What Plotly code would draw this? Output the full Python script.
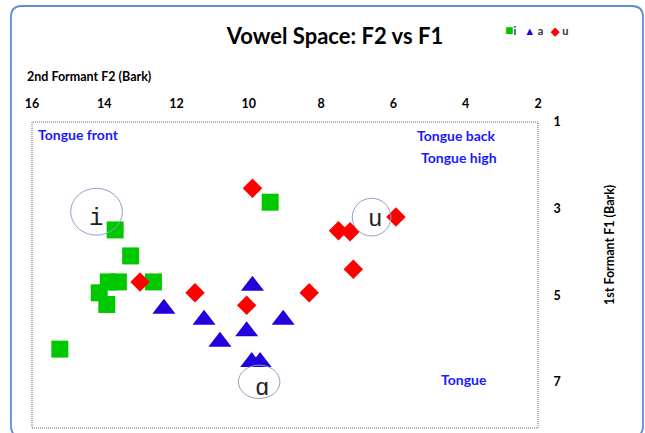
import plotly.graph_objects as go

# ---- data ----
i_f2 = [9.41, 13.70, 13.27, 13.61, 13.89, 14.14, 13.93, 12.64, 15.23]
i_f1 = [2.85, 3.49, 4.09, 4.69, 4.69, 4.94, 5.21, 4.69, 6.24]

a_f2 = [9.90, 12.35, 11.24, 10.80, 10.06, 9.05, 9.92, 9.69]
a_f1 = [4.78, 5.31, 5.56, 6.07, 5.83, 5.56, 6.54, 6.54]

u_f2 = [9.90, 13.01, 11.49, 10.06, 8.33, 5.93, 7.52, 7.20, 7.11]
u_f1 = [2.53, 4.69, 4.94, 5.23, 4.94, 3.19, 3.51, 3.53, 4.40]

x_ticks = [16, 14, 12, 10, 8, 6, 4, 2]
y_ticks = [1, 3, 5, 7]

GREEN = "#00c800"
BLUE = "#2200dd"
RED = "#ff0000"
TXTBLUE = "#1a1aff"
FONT = "Lato"

W, H = 645, 433
L, R, T, B = 32, 538, 122, 428


def px(x):
    return (x - L) / (R - L)


def py(y):
    return (B - y) / (B - T)


fig = go.Figure()
fig.add_trace(go.Scatter(x=i_f2, y=i_f1, mode="markers", name="i",
                         marker=dict(symbol="square", size=17, color=GREEN)))
fig.add_trace(go.Scatter(x=a_f2, y=a_f1, mode="markers", name="a",
                         marker=dict(symbol="triangle-up", size=20, color=BLUE)))
fig.add_trace(go.Scatter(x=u_f2, y=u_f1, mode="markers", name="u",
                         marker=dict(symbol="diamond", size=15, color=RED)))

# outer rounded frame (paper coords)
x0, x1, y0, y1 = px(11), px(643), py(437), py(6)
rx, ry = 11 / (R - L), 11 / (B - T)
frame = (f"M{x0+rx},{y1} L{x1-rx},{y1} Q{x1},{y1} {x1},{y1-ry} "
         f"L{x1},{y0+ry} Q{x1},{y0} {x1-rx},{y0} L{x0+rx},{y0} "
         f"Q{x0},{y0} {x0},{y0+ry} L{x0},{y1-ry} Q{x0},{y1} {x0+rx},{y1} Z")

shapes = [
    dict(type="path", xref="paper", yref="paper", path=frame,
         line=dict(color="#5b8ed6", width=1.8), layer="below"),
    dict(type="rect", xref="paper", yref="paper", x0=0, x1=1, y0=0, y1=1,
         line=dict(color="#666666", width=1, dash="1px,1px")),
    # circles around vowel symbols
    dict(type="circle", xref="x", yref="y", x0=14.93, x1=13.50, y0=2.53, y1=3.61,
         line=dict(color="#8da2c4", width=1)),
    dict(type="circle", xref="x", yref="y", x0=7.14, x1=6.07, y0=2.76, y1=3.63,
         line=dict(color="#8da2c4", width=1)),
    dict(type="circle", xref="x", yref="y", x0=10.29, x1=9.14, y0=6.61, y1=7.38,
         line=dict(color="#8da2c4", width=1)),
]

bold = dict(family=FONT, size=14, color=TXTBLUE, weight="bold")
axis_font = dict(family=FONT, size=12.5, color="black", weight="bold")
sym_font = dict(family="Liberation Mono, DejaVu Sans Mono", size=24, color="#222222")
annotations = [
    dict(text="Tongue front", x=px(36), y=py(134), xref="paper", yref="paper",
         xanchor="left", yanchor="middle", showarrow=False, font=bold),
    dict(text="Tongue back", x=px(498), y=py(135), xref="paper", yref="paper",
         xanchor="right", yanchor="middle", showarrow=False, font=bold),
    dict(text="Tongue high", x=px(499), y=py(157), xref="paper", yref="paper",
         xanchor="right", yanchor="middle", showarrow=False, font=bold),
    dict(text="Tongue", x=px(464), y=py(379), xref="paper", yref="paper",
         xanchor="center", yanchor="middle", showarrow=False, font=bold),
    dict(text="2nd Formant F2 (Bark)", x=px(25), y=py(76), xref="paper", yref="paper",
         xanchor="left", yanchor="middle", showarrow=False, font=axis_font),
    dict(text="1st Formant F1 (Bark)", x=px(609), y=py(245), xref="paper", yref="paper",
         xanchor="center", yanchor="middle", showarrow=False, textangle=-90,
         font=axis_font),
    # vowel symbols
    dict(text="i", x=14.23, y=3.22, xref="x", yref="y", showarrow=False, font=sym_font),
    dict(text="u", x=6.51, y=3.26, xref="x", yref="y", showarrow=False, font=sym_font),
    dict(text="ɑ", x=9.64, y=7.14, xref="x", yref="y", showarrow=False, font=sym_font),
    # compact legend
    dict(text=(f"<span style='color:{GREEN};font-size:14px'>■</span>i&nbsp;&nbsp;&nbsp;"
               f"<span style='color:{BLUE}'>▲</span>&nbsp;a&nbsp;&nbsp;&nbsp;"
               f"<span style='color:{RED}'>◆</span>&nbsp;u"),
         x=px(536), y=py(30), xref="paper", yref="paper", xanchor="center",
         yanchor="middle", showarrow=False,
         font=dict(family=FONT, size=11, color="#333333", weight="bold")),
]

fig.update_layout(
    width=W, height=H,
    margin=dict(l=L, r=W - R, t=T, b=H - B, pad=0),
    paper_bgcolor="white", plot_bgcolor="white",
    showlegend=False,
    title=dict(text="Vowel Space: F2 vs F1", x=335 / W, xanchor="center",
               y=1 - 36 / H, yanchor="middle", yref="container",
               font=dict(family=FONT, size=22, color="black", weight="bold")),
    xaxis=dict(range=[16, 2], side="top", tickvals=x_ticks, showgrid=False,
               zeroline=False, showline=False, ticks="outside", ticklen=8,
               tickcolor="rgba(0,0,0,0)", tickfont=axis_font),
    yaxis=dict(range=[8.06, 1], side="right", tickvals=y_ticks, showgrid=False,
               zeroline=False, showline=False, ticks="outside", ticklen=12,
               tickcolor="rgba(0,0,0,0)", tickfont=axis_font),
    shapes=shapes,
    annotations=annotations,
)

fig.write_html("out.html", config={"displayModeBar": False},
               post_script="document.body.style.margin='0';document.body.style.padding='0';")
